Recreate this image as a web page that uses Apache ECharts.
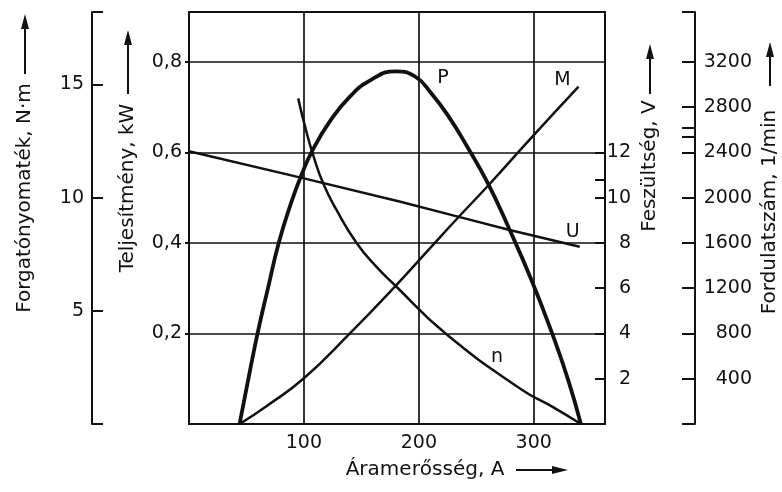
<!DOCTYPE html>
<html>
<head>
<meta charset="utf-8">
<script src="https://cdn.jsdelivr.net/npm/echarts@6/dist/echarts.min.js"></script>
<style>
html,body{margin:0;padding:0;background:#fff}
#chart{width:782px;height:492px}
</style>
</head>
<body>
<div id="chart"></div>
<script>
// áramerősség (A) pontok és a görbék értékei
var pCurrent = [44, 52, 60, 69, 78, 88, 98, 108, 123, 140, 157, 180, 197, 211, 226, 242, 260, 279, 298, 316, 330, 341];
var power    = [0, 0.104, 0.204, 0.303, 0.399, 0.482, 0.551, 0.607, 0.67, 0.723, 0.758, 0.779, 0.767, 0.73, 0.679, 0.613, 0.532, 0.429, 0.318, 0.2, 0.097, 0];

var mCurrent = [44, 68, 100, 140, 179, 208, 234, 261, 298, 339];
var torque   = [0, 0.81, 2.02, 4.0, 6.06, 7.67, 9.11, 10.57, 12.65, 14.9];

var uCurrent = [0, 100, 184, 234, 279, 340];
var voltage  = [12.05, 10.85, 9.82, 9.16, 8.57, 7.83];

var nCurrent = [95, 101, 108, 117, 128, 146, 163, 179, 223, 290, 316, 341];
var speed    = [2877, 2627, 2377, 2120, 1898, 1597, 1390, 1228, 801, 300, 153, 0];

// tengely feliratok
var currentLabels = [100, 200, 300];
var powerLabels   = [0.2, 0.4, 0.6, 0.8];
var torqueLabels  = [5, 10, 15];
var voltLabels    = [2, 4, 6, 8, 10, 12];
var speedLabels   = [400, 800, 1200, 1600, 2000, 2400, 2800, 3200];

var ink = '#111';
var font = 'DejaVu Sans';

function pairs(xs, ys) {
    var out = [];
    for (var i = 0; i < xs.length; i++) out.push([xs[i], ys[i]]);
    return out;
}

// felfelé mutató nyíl
function arrowUp(x, yTail, yTip) {
    return [
        {type: 'line', shape: {x1: x, y1: yTail, x2: x, y2: yTip + 10}, style: {stroke: ink, lineWidth: 2}},
        {type: 'polygon', shape: {points: [[x - 4, yTip + 15], [x + 4, yTip + 15], [x, yTip]]}, style: {fill: ink}}
    ];
}
function arrowRight(y, xTail, xTip) {
    return [
        {type: 'line', shape: {x1: xTail, y1: y, x2: xTip - 10, y2: y}, style: {stroke: ink, lineWidth: 2}},
        {type: 'polygon', shape: {points: [[xTip - 16, y - 4], [xTip - 16, y + 4], [xTip, y]]}, style: {fill: ink}}
    ];
}
function vText(x, y, txt) {
    return {type: 'text', x: x, y: y, rotation: Math.PI / 2,
        style: {text: txt, fill: ink, font: '20px ' + font, align: 'center', verticalAlign: 'middle',
                textAlign: 'center', textVerticalAlign: 'middle'}};
}

var labelStyle = {color: ink, fontSize: 19, fontFamily: font};

function curveLabel(txt, coord) {
    return {
        symbolSize: 0,
        label: {show: true, position: 'inside', formatter: txt, color: ink, fontSize: 19, fontFamily: font},
        data: [{coord: coord}]
    };
}

var myChart = echarts.init(document.getElementById('chart'));
var option = {
    backgroundColor: '#fff',
    animation: false,
    grid: {left: 189, right: 177, top: 12, bottom: 68, show: true, borderColor: ink, borderWidth: 2},
    xAxis: {
        type: 'value', min: 0, max: 362, interval: 100,
        axisLine: {show: false},
        axisTick: {show: false},
        axisLabel: Object.assign({customValues: currentLabels, margin: 10}, labelStyle),
        splitLine: {show: true, lineStyle: {color: ink, width: 1.7}}
    },
    yAxis: [
        {   // teljesítmény
            type: 'value', position: 'left', min: 0, max: 0.91, interval: 0.2,
            axisLine: {show: false},
            axisTick: {show: true, inside: false, length: 4, customValues: powerLabels, lineStyle: {color: ink, width: 2}},
            axisLabel: Object.assign({customValues: powerLabels, margin: 7,
                formatter: function(v) { return v.toFixed(1).replace('.', ','); }}, labelStyle),
            splitLine: {show: true, lineStyle: {color: ink, width: 1.7}}
        },
        {   // forgatónyomaték
            type: 'value', position: 'left', offset: 97, min: 0, max: 18.2,
            axisLine: {show: true, lineStyle: {color: ink, width: 2}},
            axisTick: {show: true, inside: true, length: 11, customValues: [0, 5, 10, 15, 18.2], lineStyle: {color: ink, width: 2}},
            axisLabel: Object.assign({customValues: torqueLabels, margin: 8}, labelStyle),
            splitLine: {show: false}
        },
        {   // feszültség
            type: 'value', position: 'right', min: 0, max: 18.2,
            axisLine: {show: false},
            axisTick: {show: true, inside: true, length: 10, customValues: [2, 4, 6, 8, 10, 10.8, 12], lineStyle: {color: ink, width: 2}},
            axisLabel: Object.assign({customValues: voltLabels, margin: 26, align: 'right'}, labelStyle),
            splitLine: {show: false}
        },
        {   // fordulatszám
            type: 'value', position: 'right', offset: 90, min: 0, max: 3640,
            axisLine: {show: true, lineStyle: {color: ink, width: 2}},
            axisTick: {show: true, inside: true, length: 13,
                customValues: [0, 400, 800, 1200, 1600, 2000, 2400, 2540, 2620, 2800, 3200, 3640], lineStyle: {color: ink, width: 2}},
            axisLabel: Object.assign({customValues: speedLabels, margin: 57, align: 'right',
                formatter: function(v) { return String(v); }}, labelStyle),
            splitLine: {show: false}
        }
    ],
    series: [
        {
            name: 'P', type: 'line', yAxisIndex: 0, data: pairs(pCurrent, power),
            smooth: 0.5, showSymbol: false,
            lineStyle: {color: ink, width: 3.8},
            markPoint: curveLabel('P', [221, 0.765])
        },
        {
            name: 'M', type: 'line', yAxisIndex: 1, data: pairs(mCurrent, torque),
            smooth: 0.5, showSymbol: false,
            lineStyle: {color: ink, width: 2.5},
            markPoint: curveLabel('M', [325, 15.2])
        },
        {
            name: 'U', type: 'line', yAxisIndex: 2, data: pairs(uCurrent, voltage),
            showSymbol: false,
            lineStyle: {color: ink, width: 2.5},
            markPoint: curveLabel('U', [334, 8.5])
        },
        {
            name: 'n', type: 'line', yAxisIndex: 3, data: pairs(nCurrent, speed),
            smooth: 0.5, showSymbol: false,
            lineStyle: {color: ink, width: 2.5},
            markPoint: curveLabel('n', [268, 590])
        }
    ],
    graphic: [].concat(
        [vText(25, 198, 'Forgatónyomaték, N·m')], arrowUp(25, 74, 14),
        [vText(128, 188, 'Teljesítmény, kW')], arrowUp(128, 94, 30),
        [vText(650, 166, 'Feszültség, V')], arrowUp(650, 94, 44),
        [vText(770, 212, 'Fordulatszám, 1/min')], arrowUp(770, 86, 42),
        [{type: 'text', x: 425, y: 470,
          style: {text: 'Áramerősség, A', fill: ink, font: '20px ' + font, align: 'center', verticalAlign: 'middle',
                  textAlign: 'center', textVerticalAlign: 'middle'}}],
        arrowRight(470, 516, 568)
    )
};
myChart.setOption(option);
</script>
</body>
</html>
